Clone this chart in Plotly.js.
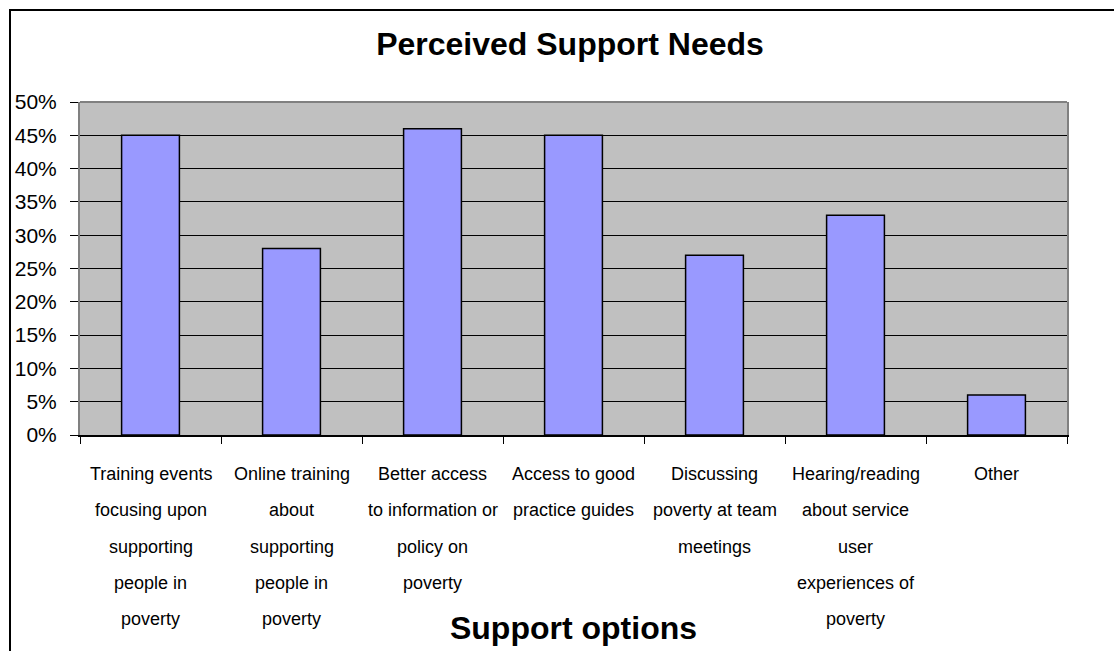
<!DOCTYPE html>
<html>
<head>
<meta charset="utf-8">
<script src="https://cdn.plot.ly/plotly-3.0.1.min.js"></script>
<style>
  html, body { margin: 0; padding: 0; background: #ffffff; }
  #chart { width: 1114px; height: 651px; }
</style>
</head>
<body>
<div id="chart"></div>
<script>
// Category labels, one entry per wrapped line
const labelLines = [
  ['Training events', 'focusing upon', 'supporting', 'people in', 'poverty'],
  ['Online training', 'about', 'supporting', 'people in', 'poverty'],
  ['Better access', 'to information or', 'policy on', 'poverty'],
  ['Access to good', 'practice guides'],
  ['Discussing', 'poverty at team', 'meetings'],
  ['Hearing/reading', 'about service', 'user', 'experiences of', 'poverty'],
  ['Other']
];
const categories = labelLines.map(lines => lines.join(' '));

// Share of respondents naming each support option
const shares = [0.45, 0.28, 0.46, 0.45, 0.27, 0.33, 0.06];

const chartTitle = 'Perceived Support Needs';
const xTitle = 'Support options';

const W = 1114, H = 651;
const margin = { l: 80, r: 47, t: 102, b: 216, pad: 0 };
const plotW = W - margin.l - margin.r;
const plotH = H - margin.t - margin.b;

const sans = '"Liberation Sans", Arial, sans-serif';

// Wrapped category labels below the axis, one annotation per line
const lineGap = 36.3;
const annotations = [];
labelLines.forEach((lines, ci) => {
  lines.forEach((line, li) => {
    annotations.push({
      x: categories[ci], xref: 'x',
      y: 0, yref: 'paper',
      xanchor: 'center', yanchor: 'middle',
      yshift: -(39 + li * lineGap),
      text: line,
      showarrow: false,
      font: { family: sans, size: 18, color: '#000000' }
    });
  });
});

// Convert a pixel position on the page to paper coordinates
const px = x => (x - margin.l) / plotW;
const py = y => (H - margin.b - y) / plotH;

const shapes = [
  // grey top edge of the plot area
  { type: 'line', xref: 'paper', yref: 'paper', x0: 0, x1: 1, y0: 1, y1: 1,
    line: { color: '#808080', width: 2 }, layer: 'above' },
  // outer frame of the chart
  { type: 'rect', xref: 'paper', yref: 'paper',
    x0: px(10), x1: px(W + 20), y0: py(H + 20), y1: py(10),
    line: { color: '#000000', width: 2 }, fillcolor: 'rgba(0,0,0,0)', layer: 'above' }
];

const trace = {
  type: 'bar',
  x: categories,
  y: shares,
  marker: { color: '#9999FF', line: { color: '#000000', width: 1.5 } },
  hoverinfo: 'x+y'
};

const layout = {
  width: W, height: H,
  margin: margin,
  paper_bgcolor: '#ffffff',
  plot_bgcolor: '#C0C0C0',
  showlegend: false,
  bargap: 0.59,
  title: {
    text: '<b>' + chartTitle + '</b>',
    font: { family: sans, size: 32, color: '#000000' },
    x: 570 / W, xref: 'container', xanchor: 'center',
    y: 1 - 44 / H, yref: 'container', yanchor: 'middle'
  },
  xaxis: {
    type: 'category',
    categoryorder: 'array',
    categoryarray: categories,
    range: [-0.5, categories.length - 0.5],
    autorange: false,
    showticklabels: false,
    ticks: 'outside', tickson: 'boundaries', ticklen: 7, tickcolor: '#000000', tickwidth: 1,
    showline: true, linecolor: '#000000', linewidth: 2,
    showgrid: false, zeroline: false,
    title: {
      text: '<b>' + xTitle + '</b>',
      font: { family: sans, size: 32, color: '#000000' },
      standoff: 181
    },
    automargin: false
  },
  yaxis: {
    range: [0, 0.5],
    autorange: false,
    dtick: 0.05,
    tickformat: '.0%',
    ticks: 'outside', ticklen: 8, tickcolor: '#000000', tickwidth: 1,
    ticklabelstandoff: 9,
    tickfont: { family: sans, size: 21, color: '#000000' },
    showline: true, linecolor: '#808080', linewidth: 2, mirror: true,
    showgrid: true, gridcolor: '#000000', gridwidth: 1,
    zeroline: false,
    automargin: false
  },
  annotations: annotations,
  shapes: shapes
};

Plotly.newPlot('chart', [trace], layout, { displayModeBar: false, staticPlot: true });
</script>
</body>
</html>
